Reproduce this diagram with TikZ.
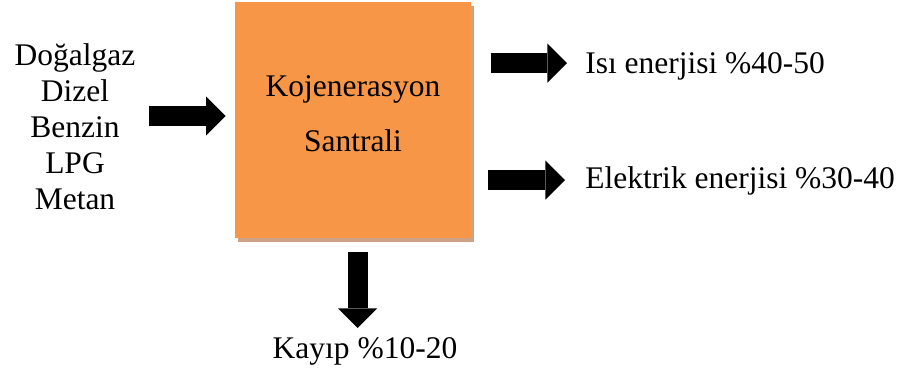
\documentclass[tikz,border=0pt]{standalone}
\usepackage{fontspec}
\setmainfont{Liberation Serif}
\usetikzlibrary{arrows.meta,shadows}
\definecolor{plantorange}{HTML}{F79646}
\definecolor{shadowtan}{HTML}{CFA285}
\begin{document}
\begin{tikzpicture}[
  every node/.style={inner sep=0pt,font=\fontsize{22.4}{25.5}\selectfont},
  plantbox/.style={fill=plantorange,minimum size=5.9cm,align=center,text depth=0.33cm,
    font=\fontsize{22.4}{39}\selectfont,
    drop shadow={shadow xshift=0.08cm,shadow yshift=-0.11cm,fill=shadowtan,opacity=1}},
  blockarrow/.style={line width=0.5cm,-{Triangle[length=0.49cm,width=0.98cm,line width=0pt]}}
]
\useasboundingbox (0,0) rectangle (22.675,-9.4);
% Draw the plant
\node[plantbox] (plant) at (8.825,-3.0) {Kojenerasyon\\Santrali};
% Draw the fuels and the outputs
\node[anchor=north,align=center] (fuels) at (1.875,-1.09) {Doğalgaz\\Dizel\\Benzin\\LPG\\Metan};
\node[anchor=base west] (heat) at (14.625,-1.825) {Isı enerjisi \%40-50};
\node[anchor=base west] (elec) at (14.625,-4.7) {Elektrik enerjisi \%30-40};
\node[anchor=base] (loss) at (9.125,-8.95) {Kayıp \%10-20};
% Draw the arrows
\coordinate (fuelout) at (3.725,-2.9);
\coordinate (heatin) at (12.275,-1.575);
\coordinate (elecin) at (12.2,-4.5);
\coordinate (lossin) at (8.94,-6.3);
\draw[blockarrow,shorten >=0.225cm] (fuelout) -- (fuelout -| plant.west);
\draw[blockarrow,shorten >=0.45cm] (heatin) -- (heatin -| heat.west);
\draw[blockarrow,shorten >=0.5cm] (elecin) -- (elecin -| elec.west);
\draw[blockarrow,shorten >=0.22cm] (lossin) -- (lossin |- loss.north);
\end{tikzpicture}
\end{document}
